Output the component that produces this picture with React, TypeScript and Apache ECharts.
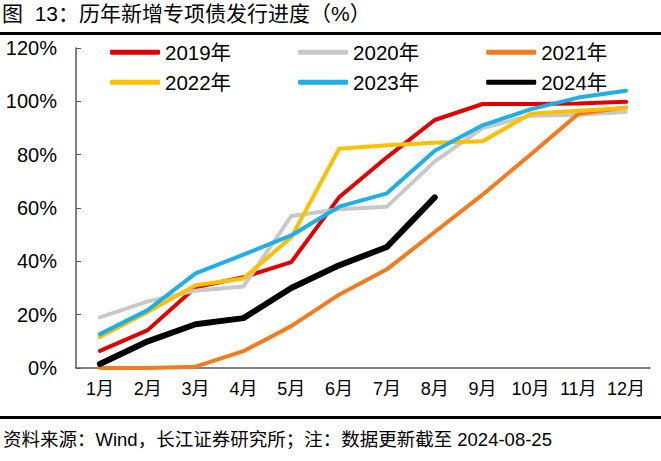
import React, { useEffect, useRef } from "react";
import * as echarts from "echarts";

const months = ["1月", "2月", "3月", "4月", "5月", "6月", "7月", "8月", "9月", "10月", "11月", "12月"];
const y2019 = [6.4, 14.2, 30.3, 34, 39.7, 64, 79, 93, 99, 99, 99.2, 99.8];
const y2020 = [19, 25, 29, 30.6, 57, 59.5, 60.5, 77.5, 90, 94.6, 95, 96];
const y2021 = [0, 0, 0.5, 6.3, 15.7, 27.5, 37, 51, 65, 80, 95.3, 97.7];
const y2022 = [11.6, 21, 31, 33.6, 49, 82.2, 83.5, 84.5, 85, 95.3, 96.5, 97.5];
const y2023 = [12.7, 21.7, 35.5, 42.5, 49.7, 60.5, 65.5, 81.5, 91, 97, 101.4, 104];
const y2024 = [1.5, 10, 16.4, 18.7, 30, 38.5, 45.4, 64];
const seriesNames = ["2019年", "2020年", "2021年", "2022年", "2023年", "2024年"];
const seriesData = [y2019, y2020, y2021, y2022, y2023, y2024];
const colors = ["#E00000", "#C8C8C8", "#F47A1F", "#FFC000", "#1EAEE8", "#000000"];
const widths = [4, 4, 4, 4, 4, 6];
const yTicks = { min: 0, max: 120, interval: 20 };

const FONT = "Arial, 'Liberation Sans', 'Noto Sans CJK SC', sans-serif";

export default function App() {
  const ref = useRef<HTMLDivElement>(null);
  useEffect(() => {
    if (!ref.current) return;
    const chart = echarts.init(ref.current, null, { renderer: "svg" });
    const legendCommon = {
      icon: "roundRect",
      itemWidth: 50,
      itemHeight: 5,
      itemGap: 67,
      textStyle: { fontSize: 20.5, color: "#000", fontFamily: FONT, width: 72 },
    };
    const mkData = (names: string[], offset: number) =>
      names.map((n, i) => ({
        name: n,
        itemStyle: { color: colors[offset + i], borderWidth: 0 },
      }));
    chart.setOption({
      animation: false,
      backgroundColor: "#fff",
      grid: { left: 76, right: 11, top: 48, bottom: 93 },
      graphic: [
        {
          type: "text",
          left: 2,
          top: 3,
          style: { text: "图  13：历年新增专项债发行进度（%）", fontSize: 21, fill: "#000", fontFamily: FONT },
        },
        { type: "rect", shape: { x: 0, y: 32, width: 661, height: 3 }, style: { fill: "#000" } },
        { type: "rect", shape: { x: 0, y: 416, width: 661, height: 3 }, style: { fill: "#000" } },
        {
          type: "text",
          left: 3,
          top: 430,
          style: { text: "资料来源：Wind，长江证券研究所；注：数据更新截至 2024-08-25", fontSize: 18.5, fill: "#000", fontFamily: FONT },
        },
      ],
      legend: [
        { ...legendCommon, left: 105, top: 37, data: mkData(seriesNames.slice(0, 3), 0) },
        { ...legendCommon, left: 105, top: 67, data: mkData(seriesNames.slice(3, 6), 3) },
      ],
      xAxis: {
        type: "category",
        data: months,
        boundaryGap: true,
        axisLine: { lineStyle: { color: "#595959", width: 1.5 } },
        axisTick: { inside: true, length: 5, lineStyle: { color: "#595959" } },
        axisLabel: { fontSize: 18, color: "#000", fontFamily: FONT, margin: 12, interval: 0 },
      },
      yAxis: {
        type: "value",
        ...yTicks,
        axisLine: { show: true, lineStyle: { color: "#595959", width: 1.5 } },
        axisTick: { show: true, inside: true, length: 5, lineStyle: { color: "#595959" } },
        splitLine: { show: false },
        axisLabel: { fontSize: 20, color: "#000", fontFamily: FONT, margin: 19, formatter: "{value}%" },
      },
      series: seriesNames.map((name, i) => ({
        name,
        type: "line",
        data: seriesData[i],
        symbol: "none",
        color: colors[i],
        lineStyle: { color: colors[i], width: widths[i], cap: "round", join: "round" },
      })),
    });
    return () => chart.dispose();
  }, []);
  return <div ref={ref} style={{ width: 661, height: 461, position: "absolute", left: 0, top: 0 }} />;
}
